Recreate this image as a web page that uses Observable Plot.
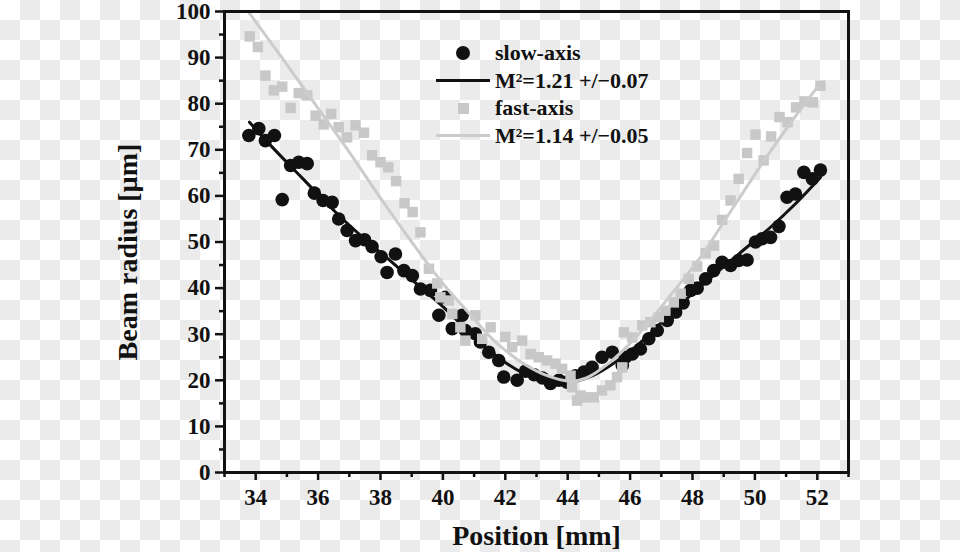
<!DOCTYPE html>
<html>
<head>
<meta charset="utf-8">
<script src="https://cdn.jsdelivr.net/npm/d3@7"></script>
<script src="https://cdn.jsdelivr.net/npm/@observablehq/plot@0.6"></script>
<style>
html, body { margin: 0; padding: 0; }
body {
  width: 960px; height: 552px; overflow: hidden;
  background-color: #ffffff;
}
#wrap { position: relative; width: 960px; height: 552px; }
#wrap svg { display: block; }
#legend {
  position: absolute; left: 436px; top: 39px;
  font: bold 22px "Liberation Serif", "Times New Roman", serif; color: #111;
}
.row { display: flex; align-items: center; height: 27.7px; }
.sw { width: 54px; height: 27.7px; display: flex; align-items: center; justify-content: center; }
.lab { margin-left: 5px; white-space: nowrap; }
</style>
</head>
<body>
<div id="wrap"></div>
<script>
// ---- data ----
const slowX = [33.78,34.10,34.31,34.60,34.85,35.12,35.38,35.65,35.88,36.16,36.45,36.66,36.93,37.20,37.49,37.73,38.02,38.21,38.48,38.75,39.02,39.28,39.60,39.87,40.08,40.30,40.62,40.72,41.04,41.20,41.47,41.79,41.95,42.38,42.65,42.92,43.19,43.45,43.72,43.98,44.25,44.52,44.78,45.10,45.43,45.75,45.85,46.07,46.33,46.60,46.87,47.19,47.46,47.70,47.94,48.15,48.42,48.68,48.95,49.22,49.48,49.75,50.02,50.23,50.50,50.77,51.03,51.30,51.57,51.84,52.10];
const slowY = [73.1,74.6,72.0,73.1,59.2,66.6,67.3,67.0,60.6,59.0,58.6,55.0,52.5,50.3,50.5,49.0,46.8,43.4,47.4,43.8,42.7,39.8,39.5,34.1,38.0,31.2,34.1,30.8,30.1,28.3,26.1,24.3,20.7,20.0,22.0,21.2,20.5,19.3,20.0,19.6,21.0,21.8,22.8,25.0,26.1,23.2,25.0,25.7,26.8,29.0,30.8,33.0,34.8,36.8,39.5,40.0,42.0,43.8,45.6,44.9,46.0,46.1,50.0,50.7,51.0,53.4,59.7,60.4,65.1,63.7,65.6];

const fastX = [33.81,34.07,34.31,34.58,34.85,35.12,35.38,35.65,35.92,36.18,36.42,36.66,36.93,37.20,37.47,37.73,38.00,38.25,38.50,38.77,39.03,39.28,39.55,39.82,39.92,40.19,40.30,40.56,40.72,41.04,41.26,41.53,42.00,42.22,42.54,42.81,43.07,43.34,43.61,43.82,44.09,44.14,44.30,44.41,44.57,44.84,45.10,45.37,45.58,45.75,45.80,46.07,46.39,46.65,46.92,47.13,47.40,47.62,47.88,48.15,48.42,48.68,48.95,49.22,49.48,49.75,50.02,50.28,50.52,50.79,51.05,51.32,51.59,51.86,52.10];
const fastY = [94.6,92.3,86.1,82.9,83.7,79.1,82.3,81.8,77.4,75.5,77.8,74.9,72.7,75.3,73.7,68.8,67.3,66.2,63.2,58.4,56.5,52.1,44.2,41.0,38.0,37.3,34.4,31.5,28.6,34.1,29.0,31.5,29.4,27.2,28.6,25.7,25.0,24.3,23.6,22.5,21.0,18.5,15.6,16.7,16.3,16.3,17.8,18.9,20.7,22.8,30.4,29.3,31.9,32.6,33.7,35.1,36.9,38.8,42.0,44.7,47.6,49.2,54.8,59.0,63.7,69.3,73.3,67.7,72.9,77.1,76.0,79.2,80.5,80.3,83.9];

const slowFitX = [33.8,34.5,35.5,36.66,37.5,38.3,39.06,40.0,40.88,41.85,42.5,43.2,44.0,44.8,45.5,46.3,47.0,47.62,48.5,49.5,50.5,51.3,52.1];
const slowFitY = [76.0,70.8,63.8,55.8,50.6,46.0,41.5,36.0,30.2,24.6,21.8,20.0,19.5,21.0,23.8,28.0,32.5,36.5,41.8,47.5,53.2,58.3,64.0];

const fastFitX = [33.78,35.0,36.0,37.0,38.0,39.0,40.0,40.78,41.53,42.0,42.59,43.34,44.09,44.6,45.37,46.0,46.55,47.3,48.26,48.95,50.23,51.0,52.0];
const fastFitY = [99.8,88.5,79.0,69.5,59.5,50.0,41.0,35.0,29.3,26.5,23.6,21.0,19.8,20.5,24.0,28.0,32.2,38.5,46.7,53.8,67.0,74.5,83.6];

const xMajor = [34,36,38,40,42,44,46,48,50,52];
const xMinor = [33,35,37,39,41,43,45,47,49,51,53];
const yMajor = [0,10,20,30,40,50,60,70,80,90,100];
const yMinor = [5,15,25,35,45,55,65,75,85,95];

const xTitle = "Position [mm]";
const yTitle = "Beam radius [µm]";
const legendLabels = ["slow-axis", "M²=1.21 +/−0.07", "fast-axis", "M²=1.14 +/−0.05"];

// ---- tables ----
const slow = slowX.map((x, i) => ({x, y: slowY[i]}));
const fast = fastX.map((x, i) => ({x, y: fastY[i]}));
const slowFit = slowFitX.map((x, i) => ({x, y: slowFitY[i]}));
const fastFit = fastFitX.map((x, i) => ({x, y: fastFitY[i]}));

const INK = "#111111";
const GREY_PT = "#c8c8c8";
const GREY_LN = "#cccccc";
const CHECK = "#ebebeb";

const chart = Plot.plot({
  width: 960,
  height: 552,
  marginLeft: 224,
  marginRight: 112,
  marginTop: 11,
  marginBottom: 80,
  style: {background: "#ffffff", fontFamily: "'Liberation Serif', 'Times New Roman', serif", fontWeight: "bold", color: INK},
  x: {domain: [33, 53]},
  y: {domain: [0, 100]},
  marks: [
    Plot.dot(slow, {x: "x", y: "y", r: 6.8, fill: INK, stroke: null}),
    Plot.line(slowFit, {x: "x", y: "y", curve: "catmull-rom", stroke: INK, strokeWidth: 3}),
    Plot.dot(fast, {x: "x", y: "y", symbol: "square", r: 5.9, fill: GREY_PT, stroke: null}),
    Plot.line(fastFit, {x: "x", y: "y", curve: "catmull-rom", stroke: GREY_LN, strokeWidth: 3}),
    Plot.axisX({ticks: xMajor, tickSize: 8, tickPadding: 8, strokeWidth: 2.5, fontSize: 23, label: null, stroke: INK, fill: INK}),
    Plot.axisX({ticks: xMinor, tickSize: 5, tickFormat: () => "", strokeWidth: 2.5, label: null, stroke: INK}),
    Plot.axisY({ticks: yMajor, tickSize: 9, tickPadding: 5, strokeWidth: 2.5, fontSize: 23, label: null, stroke: INK, fill: INK}),
    Plot.axisY({ticks: yMinor, tickSize: 5, tickFormat: () => "", strokeWidth: 2.5, label: null, stroke: INK}),
    Plot.frame({stroke: INK, strokeWidth: 3}),
    Plot.text([xTitle], {frameAnchor: "bottom", text: d => d, textAnchor: "middle", dy: 72, fontSize: 28, fontWeight: "bold", fill: INK}),
    Plot.text([yTitle], {frameAnchor: "left", text: d => d, textAnchor: "middle", rotate: -90, dx: -96, dy: 10, fontSize: 28, fontWeight: "bold", fill: INK})
  ]
});

// checkerboard backdrop (the reference's transparency pattern), drawn first inside the SVG
const NS = "http://www.w3.org/2000/svg";
const defs = document.createElementNS(NS, "defs");
const pat = document.createElementNS(NS, "pattern");
pat.setAttribute("id", "checker");
pat.setAttribute("width", "40");
pat.setAttribute("height", "40");
pat.setAttribute("patternUnits", "userSpaceOnUse");
[[0, 0, "#ffffff", 40], [20, 0, CHECK, 20], [0, 20, CHECK, 20]].forEach(([px, py, c, s]) => {
  const r = document.createElementNS(NS, "rect");
  r.setAttribute("x", px); r.setAttribute("y", py);
  r.setAttribute("width", s); r.setAttribute("height", s);
  r.setAttribute("fill", c);
  pat.appendChild(r);
});
defs.appendChild(pat);
const bg = document.createElementNS(NS, "rect");
bg.setAttribute("width", "960");
bg.setAttribute("height", "552");
bg.setAttribute("fill", "url(#checker)");
chart.insertBefore(bg, chart.firstChild);
chart.insertBefore(defs, chart.firstChild);

const wrap = document.getElementById("wrap");
wrap.appendChild(chart);

// legend (HTML overlay)
const legend = document.createElement("div");
legend.id = "legend";
const swatches = [
  '<div style="width:14px;height:14px;border-radius:50%;background:' + INK + '"></div>',
  '<div style="width:54px;height:3px;background:' + INK + '"></div>',
  '<div style="width:11px;height:11px;background:' + GREY_PT + '"></div>',
  '<div style="width:54px;height:3px;background:' + GREY_LN + '"></div>'
];
legend.innerHTML = legendLabels.map((t, i) =>
  '<div class="row"><div class="sw">' + swatches[i] + '</div><div class="lab">' + t + '</div></div>'
).join("");
wrap.appendChild(legend);
</script>
</body>
</html>
